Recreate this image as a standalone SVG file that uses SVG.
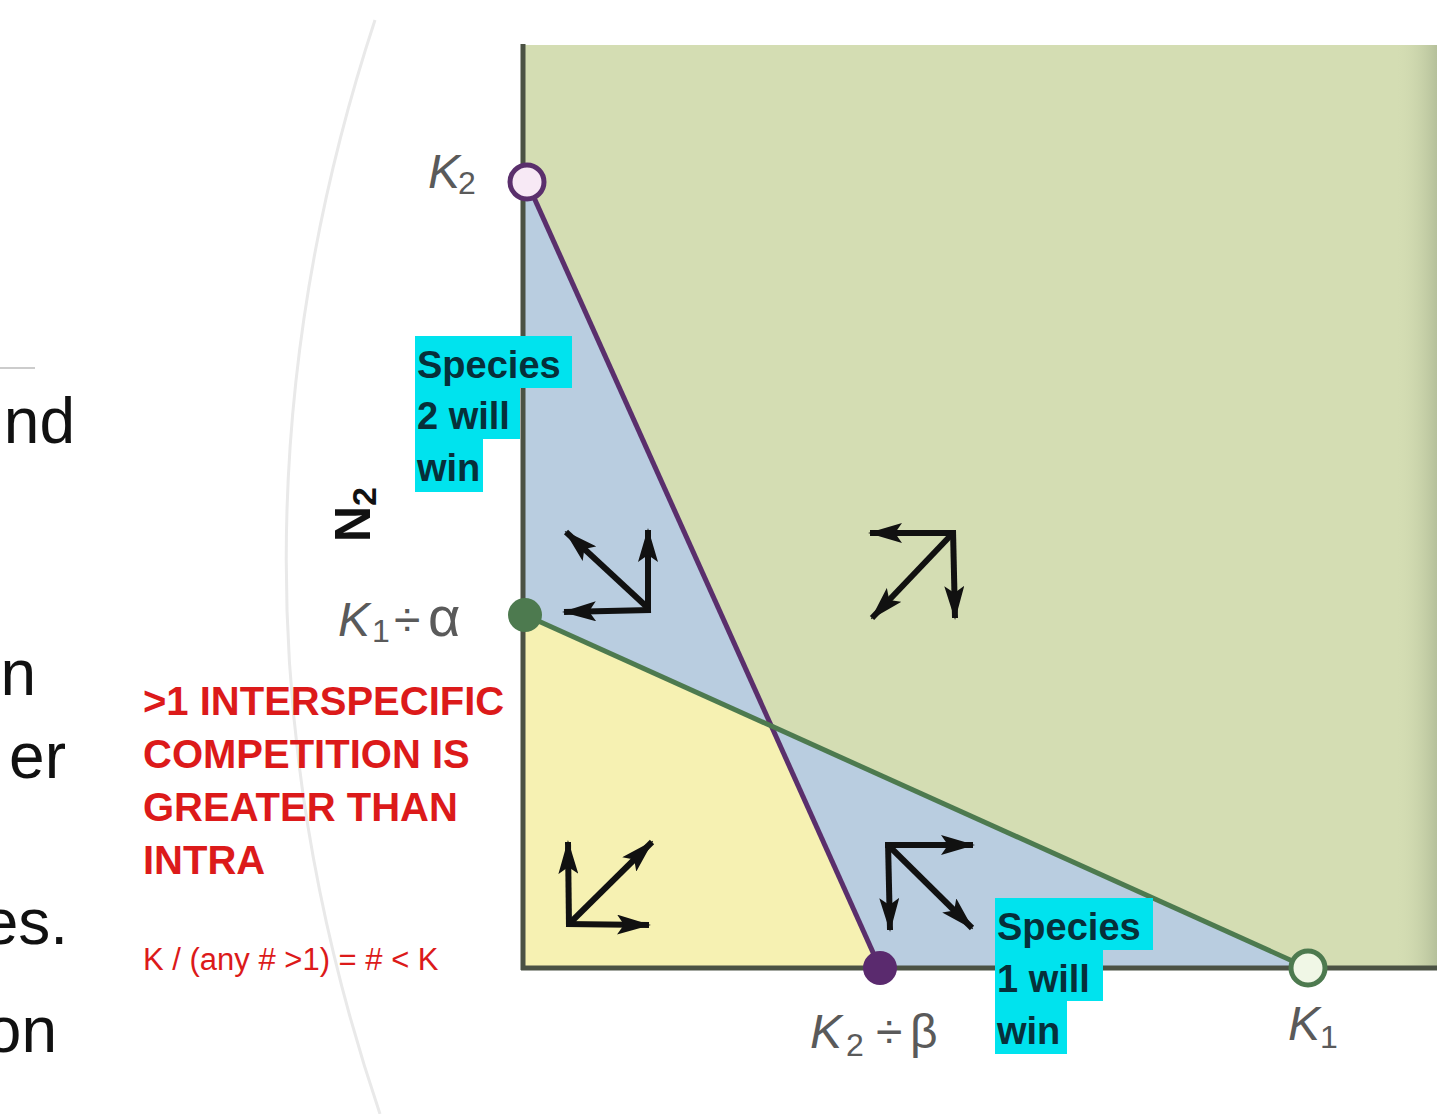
<svg xmlns="http://www.w3.org/2000/svg" width="1440" height="1114" viewBox="0 0 1440 1114">
<style>
.side{font-family:"Liberation Sans",Arial,sans-serif;font-size:64px;fill:#111}
.klab{font-family:"Liberation Sans",Arial,sans-serif;font-size:48px;fill:#5a5a5a}
.it{font-style:italic}
.sub{font-size:32px}
.cyan{fill:#00e3ee}
.sp{font-family:"Liberation Sans",Arial,sans-serif;font-weight:bold;font-size:38px;fill:#06303a}
.red{font-family:"Liberation Sans",Arial,sans-serif;font-weight:bold;font-size:40px;fill:#dc1a1a}
.redsm{font-family:"Liberation Sans",Arial,sans-serif;font-size:31px;fill:#dc1a1a}
.arr{stroke:#111;stroke-width:6;fill:none;marker-end:url(#ah)}
</style>
<defs>
<marker id="ah" viewBox="0 0 34 20" refX="32" refY="10" markerWidth="34" markerHeight="20" markerUnits="userSpaceOnUse" orient="auto">
<path d="M0,0 L34,10 L0,20 L7,10 Z" fill="#111"/>
</marker>
<linearGradient id="edge" x1="0" y1="0" x2="1" y2="0">
<stop offset="0" stop-color="#d4ddb3" stop-opacity="0"/>
<stop offset="1" stop-color="#b5c09a"/>
</linearGradient>
</defs>
<rect width="1440" height="1114" fill="#ffffff"/>
<path d="M375,20 Q195,567 380,1114" fill="none" stroke="#e9e9e9" stroke-width="3"/>
<g id="side-text">
<line x1="0" y1="368" x2="35" y2="368" stroke="#cccccc" stroke-width="2"/>
<text class="side" x="75" y="443" text-anchor="end">nd</text>
<text class="side" x="36" y="695" text-anchor="end">n</text>
<text class="side" x="66" y="778" text-anchor="end">er</text>
<text class="side" x="68" y="944" text-anchor="end">es.</text>
<text class="side" x="57" y="1052" text-anchor="end">on</text>
</g>
<g id="regions">
<rect id="green-region" x="523" y="45" width="914" height="923" fill="#d4ddb3"/>
<rect x="1395" y="45" width="42" height="923" fill="url(#edge)"/>
<polygon id="blue-upper" points="523,182 527,182 768,724 523,615" fill="#b9cde0"/>
<polygon id="blue-lower" points="768,724 1308,968 880,968" fill="#b9cde0"/>
<polygon id="yellow-region" points="523,615 768,724 880,968 523,968" fill="#f6f1b2"/>
</g>
<g id="axes">
<line x1="523" y1="44" x2="523" y2="970" stroke="#4b5244" stroke-width="5"/>
<line x1="521" y1="968" x2="1437" y2="968" stroke="#4b5244" stroke-width="5"/>
</g>
<g id="connectors">
<line id="isocline-2" x1="527" y1="182" x2="880" y2="968" stroke="#5a2f6c" stroke-width="5"/>
<line id="isocline-1" x1="525" y1="615" x2="1308" y2="968" stroke="#4d7a4f" stroke-width="5"/>
</g>
<g id="node-K2">
<circle cx="527" cy="182" r="17" fill="#f7e9f5" stroke="#5a2f6c" stroke-width="5"/>
<text class="klab" y="188"><tspan class="it" x="428">K</tspan><tspan class="sub" x="458" dy="6">2</tspan></text>
</g>
<g id="node-K1-alpha">
<circle cx="525" cy="615" r="17" fill="#4d7a4f"/>
<text class="klab" y="636"><tspan class="it" x="338">K</tspan><tspan class="sub" x="372" dy="6">1</tspan><tspan x="394" dy="-6">÷</tspan><tspan x="428" font-size="56">α</tspan></text>
</g>
<g id="node-K2-beta">
<circle cx="880" cy="968" r="17" fill="#5a2a6e"/>
<text class="klab" y="1048"><tspan class="it" x="810">K</tspan><tspan class="sub" x="846" dy="8">2</tspan><tspan x="876" dy="-8">÷</tspan><tspan x="910">β</tspan></text>
</g>
<g id="node-K1">
<circle cx="1308" cy="968" r="17" fill="#f0f7e6" stroke="#4d7a4f" stroke-width="5"/>
<text class="klab" y="1040"><tspan class="it" x="1288">K</tspan><tspan class="sub" x="1320" dy="8">1</tspan></text>
</g>
<g id="axis-N2">
<text transform="translate(370,542) rotate(-90)" font-family="Liberation Sans,Arial,sans-serif" font-weight="bold" font-size="50" fill="#111">N<tspan font-size="34" dy="6">2</tspan></text>
</g>
<g id="species2-label">
<rect class="cyan" x="415" y="336" width="157" height="52"/>
<rect class="cyan" x="415" y="387" width="105" height="52"/>
<rect class="cyan" x="415" y="438" width="68" height="54"/>
<text class="sp" x="417" y="378">Species</text>
<text class="sp" x="417" y="429">2 will</text>
<text class="sp" x="417" y="481">win</text>
</g>
<g id="species1-label">
<rect class="cyan" x="995" y="898" width="158" height="52"/>
<rect class="cyan" x="995" y="949" width="108" height="52"/>
<rect class="cyan" x="995" y="1000" width="72" height="54"/>
<text class="sp" x="997" y="940">Species</text>
<text class="sp" x="997" y="992">1 will</text>
<text class="sp" x="997" y="1044">win</text>
</g>
<g id="note">
<text class="red" x="143" y="715">&gt;1 INTERSPECIFIC</text>
<text class="red" x="143" y="768">COMPETITION IS</text>
<text class="red" x="143" y="821">GREATER THAN</text>
<text class="red" x="143" y="874">INTRA</text>
<text class="redsm" x="143" y="970">K / (any # &gt;1) = # &lt; K</text>
</g>
<g id="vectors">
<g id="vec-blue-upper">
<line class="arr" x1="648" y1="612" x2="648" y2="530"/>
<line class="arr" x1="651" y1="610" x2="564" y2="612"/>
<line class="arr" x1="648" y1="608" x2="566" y2="532"/>
</g>
<g id="vec-green">
<line class="arr" x1="956" y1="533" x2="870" y2="533"/>
<line class="arr" x1="953" y1="530" x2="955" y2="618"/>
<line class="arr" x1="953" y1="533" x2="872" y2="618"/>
</g>
<g id="vec-yellow">
<line class="arr" x1="569" y1="927" x2="568" y2="842"/>
<line class="arr" x1="566" y1="924" x2="649" y2="925"/>
<line class="arr" x1="570" y1="923" x2="652" y2="842"/>
</g>
<g id="vec-blue-lower">
<line class="arr" x1="885" y1="845" x2="973" y2="845"/>
<line class="arr" x1="888" y1="842" x2="890" y2="930"/>
<line class="arr" x1="888" y1="845" x2="972" y2="928"/>
</g>
</g>
</svg>
